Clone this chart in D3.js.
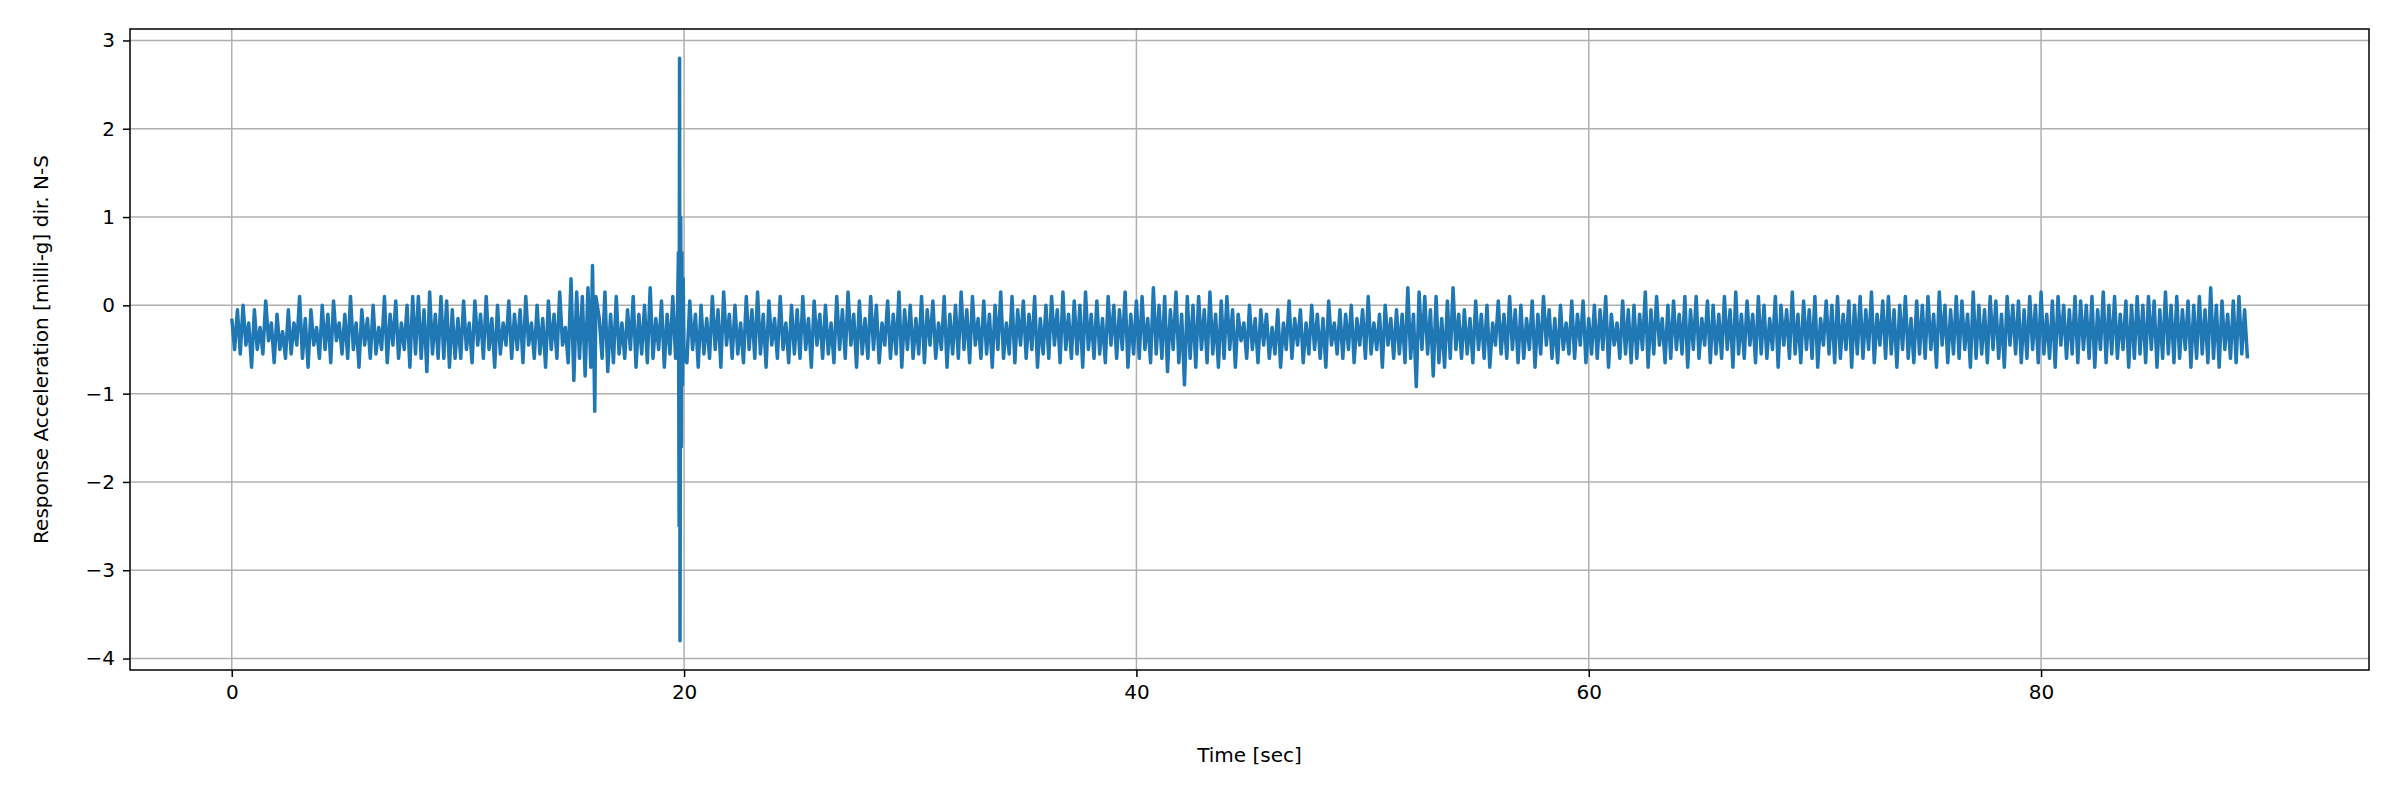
<!DOCTYPE html>
<html><head><meta charset="utf-8">
<script src="https://cdn.jsdelivr.net/npm/d3@7"></script>
<style>body{margin:0;background:#fff}</style></head>
<body><svg id="c" width="2400" height="800"></svg>
<script>
const timeStep = 0.125;
const firstHalfValues = [
-0.15,-0.5,-0.05,-0.55,0.0,-0.45,-0.2,-0.7,-0.05,-0.5,-0.25,-0.55,0.05,-0.4,-0.2,-0.65,-0.1,-0.5,-0.3,-0.6,
-0.05,-0.55,-0.2,-0.45,0.1,-0.6,-0.15,-0.7,-0.05,-0.45,-0.25,-0.6,0.0,-0.5,-0.1,-0.65,0.05,-0.4,-0.2,-0.55,
-0.1,-0.6,0.1,-0.5,-0.2,-0.7,-0.05,-0.45,-0.15,-0.6,0.0,-0.55,-0.25,-0.5,0.1,-0.65,-0.1,-0.45,0.05,-0.6,
-0.2,-0.5,0.0,-0.7,0.1,-0.55,0.1,-0.6,-0.05,-0.75,0.15,-0.55,-0.1,-0.6,0.1,-0.6,0.05,-0.7,-0.05,-0.6,
-0.15,-0.6,0.05,-0.5,-0.2,-0.65,0.05,-0.45,-0.1,-0.6,0.1,-0.5,-0.15,-0.7,0.0,-0.55,-0.2,-0.45,0.05,-0.6,
-0.1,-0.5,-0.05,-0.65,0.1,-0.45,-0.2,-0.6,0.0,-0.55,-0.15,-0.7,0.05,-0.5,-0.1,-0.6,0.15,-0.45,-0.25,-0.65,
0.3,-0.85,0.15,-0.6,0.1,-0.8,0.2,-0.7,0.05,-0.9,-0.15,-0.6,0.15,-0.75,-0.1,-0.65,0.1,-0.55,-0.2,-0.6,
-0.05,-0.5,0.1,-0.7,-0.1,-0.55,0.0,-0.65,0.2,-0.6,-0.15,-0.5,0.05,-0.7,-0.1,-0.55,0.1,-0.6,-0.05,-0.45,
-0.2,-0.65,0.05,-0.5,-0.1,-0.7,0.0,-0.55,-0.15,-0.6,0.1,-0.5,-0.05,-0.7,0.15,-0.45,-0.1,-0.6,0.0,-0.55,
-0.2,-0.65,0.1,-0.5,-0.05,-0.6,0.15,-0.55,-0.1,-0.7,0.05,-0.45,-0.15,-0.6,0.1,-0.5,-0.2,-0.65,0.0,-0.55,
-0.05,-0.6,0.1,-0.5,-0.15,-0.7,0.05,-0.45,-0.1,-0.6,0.0,-0.55,-0.2,-0.65,0.1,-0.5,-0.05,-0.6,0.15,-0.45,
-0.1,-0.7,0.05,-0.55,-0.15,-0.6,0.1,-0.5,0.0,-0.65,-0.2,-0.45,0.05,-0.6,-0.1,-0.55,0.15,-0.7,-0.05,-0.5,
0.0,-0.6,-0.15,-0.55,0.1,-0.65,-0.05,-0.45,0.05,-0.6,-0.2,-0.5,0.1,-0.7,-0.1,-0.55,0.0,-0.6,0.15,-0.5,
-0.05,-0.65,0.1,-0.45,-0.15,-0.6,0.05,-0.55,-0.1,-0.7,0.0,-0.5,0.15,-0.6,-0.2,-0.55,0.1,-0.65,-0.05,-0.45,
0.05,-0.6,-0.1,-0.5,0.1,-0.7,-0.15,-0.55,0.0,-0.6,0.1,-0.45,-0.05,-0.65,0.15,-0.5,-0.1,-0.6,0.05,-0.55,
0.0,-0.7,0.15,-0.5,-0.1,-0.6,0.05,-0.55,-0.15,-0.65,0.1,-0.45,0.0,-0.6,-0.05,-0.5,0.15,-0.7,-0.1,-0.55,
0.05,-0.6,0.1,-0.5,-0.15,-0.65,0.2,-0.55,0.0,-0.6,0.1,-0.75,-0.05,-0.5,0.15,-0.65,-0.1,-0.9,0.1,-0.6,
0.0,-0.7,0.1,-0.5,-0.05,-0.65,0.15,-0.55,-0.1,-0.7,0.05,-0.6,0.1,-0.5,-0.05,-0.7
];
const secondHalfValues = [
-0.1,-0.4,-0.2,-0.6,0.0,-0.5,-0.15,-0.65,-0.05,-0.45,-0.1,-0.6,-0.25,-0.55,-0.05,-0.7,-0.2,-0.5,0.05,-0.6,
-0.15,-0.45,-0.05,-0.65,-0.2,-0.55,0.0,-0.5,-0.1,-0.6,-0.15,-0.7,0.05,-0.45,-0.2,-0.55,-0.05,-0.6,-0.1,-0.5,
0.0,-0.65,-0.15,-0.45,-0.05,-0.6,0.1,-0.55,-0.2,-0.5,-0.1,-0.7,0.0,-0.45,-0.15,-0.6,-0.05,-0.55,-0.1,-0.65,
0.2,-0.6,-0.1,-0.92,0.15,-0.5,0.1,-0.55,-0.05,-0.8,0.1,-0.65,-0.15,-0.7,0.05,-0.6,0.2,-0.5,-0.1,-0.6,
-0.05,-0.55,-0.15,-0.65,0.05,-0.5,-0.1,-0.6,0.0,-0.7,-0.2,-0.45,0.05,-0.55,-0.1,-0.6,0.1,-0.5,-0.05,-0.65,
0.0,-0.6,-0.15,-0.5,0.05,-0.7,-0.1,-0.55,0.1,-0.45,-0.05,-0.6,-0.15,-0.65,0.0,-0.5,-0.2,-0.55,0.05,-0.6,
-0.1,-0.45,0.05,-0.65,-0.15,-0.55,0.0,-0.6,-0.05,-0.5,0.1,-0.7,-0.1,-0.45,-0.2,-0.6,0.05,-0.55,-0.05,-0.65,
0.0,-0.6,-0.1,-0.5,0.15,-0.7,-0.05,-0.55,0.1,-0.45,-0.15,-0.65,0.0,-0.6,0.05,-0.5,-0.1,-0.55,0.1,-0.7,
-0.05,-0.5,0.1,-0.6,-0.15,-0.45,0.05,-0.65,0.0,-0.55,-0.1,-0.6,0.1,-0.5,-0.05,-0.7,0.15,-0.55,-0.1,-0.6,
0.05,-0.45,-0.1,-0.65,0.1,-0.55,0.0,-0.6,-0.15,-0.5,0.1,-0.7,0.0,-0.45,-0.05,-0.6,0.15,-0.55,-0.1,-0.65,
0.05,-0.5,-0.05,-0.6,0.1,-0.7,-0.15,-0.45,0.05,-0.55,0.0,-0.65,0.1,-0.6,-0.1,-0.5,0.05,-0.7,0.0,-0.55,
0.1,-0.6,-0.05,-0.5,0.15,-0.65,-0.1,-0.45,0.05,-0.6,0.1,-0.55,-0.05,-0.7,0.0,-0.5,0.1,-0.6,-0.15,-0.65,
0.05,-0.55,0.0,-0.6,0.1,-0.5,-0.1,-0.7,0.15,-0.45,0.0,-0.65,-0.05,-0.55,0.1,-0.6,0.05,-0.5,-0.1,-0.7,
0.15,-0.6,0.0,-0.55,-0.05,-0.65,0.1,-0.5,0.05,-0.6,-0.1,-0.7,0.1,-0.45,0.0,-0.55,0.05,-0.65,-0.05,-0.6,
0.1,-0.5,0.0,-0.65,0.15,-0.55,-0.1,-0.6,0.05,-0.7,0.1,-0.45,0.0,-0.6,-0.05,-0.55,0.1,-0.65,0.05,-0.5,
0.0,-0.6,0.1,-0.7,-0.05,-0.5,0.15,-0.65,0.0,-0.55,0.1,-0.6,-0.1,-0.5,0.05,-0.7,0.0,-0.6,0.1,-0.55,
0.0,-0.65,0.1,-0.5,0.05,-0.7,-0.05,-0.6,0.15,-0.55,0.0,-0.65,0.1,-0.6,-0.05,-0.5,0.05,-0.7,0.0,-0.6,
0.1,-0.55,-0.05,-0.65,0.2,-0.6,0.0,-0.7,0.05,-0.5,-0.1,-0.6,0.05,-0.65,0.1,-0.55,-0.05,-0.6
];
const eventTimes =  [15.95,16.0,16.05,16.1,19.7,19.75,19.78,19.8,19.82,19.85,19.88,19.9,19.93,19.96,20.0];
const eventValues = [0.45,-0.3,-1.2,0.1,-0.2,0.6,-2.5,2.8,-3.8,1.0,-1.6,0.6,-0.9,0.3,-0.6];
const xTicks=[0,20,40,60,80], yTicks=[-4,-3,-2,-1,0,1,2,3];

const values = firstHalfValues.concat(secondHalfValues);
let pts = values.map((v,i)=>[i*timeStep,v])
  .filter(p=>!(p[0]>15.9&&p[0]<16.15)&&!(p[0]>19.65&&p[0]<20.05));
eventTimes.forEach((t,i)=>pts.push([t,eventValues[i]]));
pts.sort((a,b)=>a[0]-b[0]);

const svg=d3.select("#c");
const L=130,R=2369,T=29,B=670;
const x=d3.scaleLinear().domain([-4.5,94.5]).range([L,R]);
const y=d3.scaleLinear().domain([-4.13,3.13]).range([B,T]);
const g=svg.append("g");
xTicks.forEach(t=>g.append("line").attr("x1",x(t)).attr("x2",x(t)).attr("y1",T).attr("y2",B).attr("stroke","#b0b0b0").attr("stroke-width",1.5));
yTicks.forEach(t=>g.append("line").attr("y1",y(t)).attr("y2",y(t)).attr("x1",L).attr("x2",R).attr("stroke","#b0b0b0").attr("stroke-width",1.5));
svg.append("path").datum(pts).attr("d",d3.line().x(d=>x(d[0])).y(d=>y(d[1]))).attr("fill","none").attr("stroke","#1f77b4").attr("stroke-width",3.5).attr("stroke-linejoin","round");
const fmt=d=>d<0?"\u2212"+(-d):""+d;
const style=a=>{a.select(".domain").remove();a.selectAll("text").attr("font-family","DejaVu Sans").attr("font-size",20).attr("fill","#000");a.selectAll("line").attr("stroke","#000").attr("stroke-width",1.5);};
svg.append("g").attr("transform",`translate(0,${B})`).call(d3.axisBottom(x).tickValues(xTicks).tickFormat(fmt).tickSize(7).tickPadding(8)).call(style);
svg.append("g").attr("transform",`translate(${L},0)`).call(d3.axisLeft(y).tickValues(yTicks).tickFormat(fmt).tickSize(7).tickPadding(8)).call(style);
svg.append("rect").attr("x",L).attr("y",T).attr("width",R-L).attr("height",B-T).attr("fill","none").attr("stroke","#000").attr("stroke-width",1.5);
svg.append("text").attr("x",(L+R)/2).attr("y",762).attr("text-anchor","middle").attr("font-family","DejaVu Sans").attr("font-size",20).text("Time [sec]");
svg.append("text").attr("transform",`translate(48,${(T+B)/2}) rotate(-90)`).attr("text-anchor","middle").attr("font-family","DejaVu Sans").attr("font-size",20).text("Response Acceleration [milli-g] dir. N-S");
</script></body></html>
